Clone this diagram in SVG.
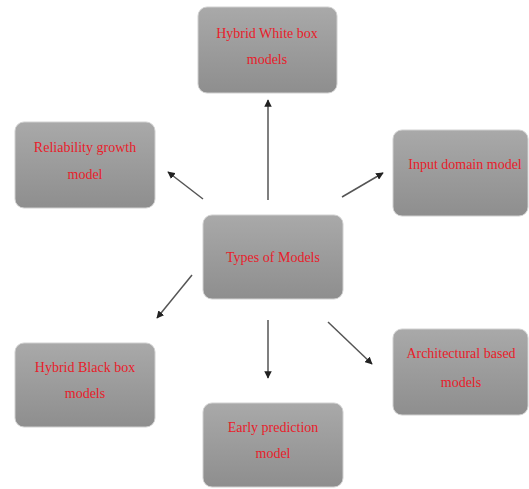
<svg xmlns="http://www.w3.org/2000/svg" width="529" height="489" viewBox="0 0 529 489">
<defs>
<linearGradient id="g" x1="0" y1="0" x2="0" y2="1">
<stop offset="0" stop-color="#a9a9a9"/>
<stop offset="1" stop-color="#8e8e8e"/>
</linearGradient>
<marker id="ah" viewBox="0 0 10 10" refX="9" refY="5" markerWidth="5" markerHeight="5" orient="auto" markerUnits="strokeWidth">
<path d="M0,0 L10,5 L0,10 z" fill="#222"/>
</marker>
</defs>
<style>
.box{fill:url(#g);stroke:#d0d0d0;stroke-width:1}
.t{font-family:"Liberation Serif","Times New Roman",serif;font-size:14px;fill:#e8202a;text-anchor:middle}
.c{stroke:#555;stroke-width:1.5;fill:none;marker-end:url(#ah)}
</style>
<rect width="529" height="489" fill="#fff"/>
<g id="connectors">
<line class="c" x1="268" y1="200" x2="268" y2="100"/>
<line class="c" x1="203" y1="199" x2="168" y2="172"/>
<line class="c" x1="342" y1="197" x2="383" y2="173"/>
<line class="c" x1="192" y1="275" x2="157" y2="318"/>
<line class="c" x1="268" y1="320" x2="268" y2="378"/>
<line class="c" x1="328" y1="322" x2="372" y2="364"/>
</g>
<g id="top">
<rect class="box" x="198" y="7" width="139" height="86" rx="9"/>
<text class="t" x="267" y="38">Hybrid White box</text>
<text class="t" x="267" y="64">models</text>
</g>
<g id="reliability">
<rect class="box" x="15" y="122" width="140" height="86" rx="9"/>
<text class="t" x="85" y="152">Reliability growth</text>
<text class="t" x="85" y="179">model</text>
</g>
<g id="center">
<rect class="box" x="203" y="215" width="140" height="84" rx="9"/>
<text class="t" x="273" y="262">Types of Models</text>
</g>
<g id="input">
<rect class="box" x="393" y="130" width="135" height="86" rx="9"/>
<text class="t" x="465" y="169">Input domain model</text>
</g>
<g id="hybridblack">
<rect class="box" x="15" y="343" width="140" height="84" rx="9"/>
<text class="t" x="85" y="372">Hybrid Black box</text>
<text class="t" x="85" y="398">models</text>
</g>
<g id="early">
<rect class="box" x="203" y="403" width="140" height="84" rx="9"/>
<text class="t" x="273" y="432">Early prediction</text>
<text class="t" x="273" y="458">model</text>
</g>
<g id="architectural">
<rect class="box" x="393" y="329" width="135" height="86" rx="9"/>
<text class="t" x="461" y="358">Architectural based</text>
<text class="t" x="461" y="387">models</text>
</g>
</svg>
